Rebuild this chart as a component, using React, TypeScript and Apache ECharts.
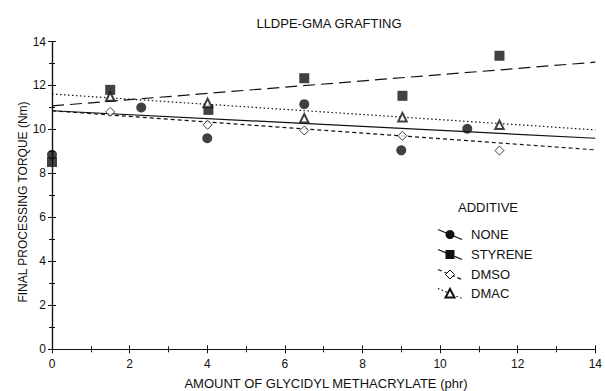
import React, { useEffect, useRef } from "react";
import * as echarts from "echarts";

const noneData: [number, number][] = [[0, 8.85], [2.3, 11.0], [4.0, 9.6], [6.5, 11.15], [9.0, 9.05], [10.7, 10.03]];
const styreneData: [number, number][] = [[0, 8.52], [1.5, 11.8], [4.03, 10.89], [6.5, 12.33], [9.03, 11.53], [11.53, 13.35]];
const dmsoData: [number, number][] = [[1.5, 10.8], [4.01, 10.21], [6.5, 9.95], [9.03, 9.71], [11.53, 9.04]];
const dmacData: [number, number][] = [[1.5, 11.5], [4.01, 11.2], [6.5, 10.51], [9.03, 10.56], [11.53, 10.21]];

const noneFit: [number, number][] = [[0, 10.85], [14, 9.6]];
const styreneFit: [number, number][] = [[0, 11.07], [14, 13.06]];
const dmsoFit: [number, number][] = [[0, 10.85], [14, 9.07]];
const dmacFit: [number, number][] = [[0, 11.61], [14, 9.98]];

const seriesNames = ["NONE", "STYRENE", "DMSO", "DMAC"];
const titleText = "LLDPE-GMA GRAFTING";
const xTitle = "AMOUNT OF GLYCIDYL METHACRYLATE (phr)";
const yTitle = "FINAL PROCESSING TORQUE (Nm)";
const legendTitle = "ADDITIVE";

const FONT = "Liberation Sans, Arial, sans-serif";

export default function App() {
  const ref = useRef<HTMLDivElement>(null);
  useEffect(() => {
    if (!ref.current) return;
    const chart = echarts.init(ref.current, undefined, { renderer: "svg" });
    const black = "#111";
    const dashTypes: any[] = ["solid", [12, 6], [4, 3], [1.5, 2.5]];
    const fits = [noneFit, styreneFit, dmsoFit, dmacFit];
    const pts = [noneData, styreneData, dmsoData, dmacData];
    const symbols = ["circle", "rect", "diamond", "triangle"];
    const sizes = [10, 10, 9, 8.5];
    const itemStyles: any[] = [
      { color: black },
      { color: black },
      { color: "#fff", borderColor: black, borderWidth: 1 },
      { color: "#fff", borderColor: black, borderWidth: 2 },
    ];
    const series: any[] = [];
    fits.forEach((f, i) => {
      series.push({
        type: "line",
        name: seriesNames[i] + " fit",
        data: f,
        showSymbol: false,
        symbol: "none",
        lineStyle: { color: black, width: 1.2, type: dashTypes[i] },
        z: 2,
        silent: true,
      });
    });
    pts.forEach((p, i) => {
      series.push({
        type: "scatter",
        name: seriesNames[i],
        data: p,
        symbol: symbols[i],
        symbolSize: sizes[i],
        itemStyle: itemStyles[i],
        z: 3,
      });
    });

    // custom legend
    const lx1 = 438, lx2 = 462, mx = 450, tx = 471;
    const ys = [234.5, 254.5, 274.5, 293.5];
    const legendChildren: any[] = [];
    ys.forEach((y, i) => {
      legendChildren.push({
        type: "line",
        shape: { x1: lx1, y1: y - 5, x2: lx2, y2: y + 5 },
        style: { stroke: black, lineWidth: 1.2, lineDash: i === 0 ? null : dashTypes[i] },
        z: 10,
      });
      let marker: any;
      if (i === 0) marker = { type: "circle", shape: { cx: mx, cy: y, r: 4.5 }, style: { fill: black } };
      else if (i === 1) marker = { type: "rect", shape: { x: mx - 4.5, y: y - 4.5, width: 9, height: 9 }, style: { fill: black } };
      else if (i === 2) marker = { type: "polygon", shape: { points: [[mx, y - 4.5], [mx + 4.5, y], [mx, y + 4.5], [mx - 4.5, y]] }, style: { fill: "#fff", stroke: black, lineWidth: 1 } };
      else marker = { type: "polygon", shape: { points: [[mx, y - 4.5], [mx + 4.5, y + 4], [mx - 4.5, y + 4]] }, style: { fill: "#fff", stroke: black, lineWidth: 2 } };
      marker.z = 11;
      legendChildren.push(marker);
      legendChildren.push({
        type: "text",
        x: tx,
        y: y,
        style: { text: seriesNames[i], fill: black, font: `13px ${FONT}`, verticalAlign: "middle", align: "left" },
        z: 11,
      });
    });
    legendChildren.push({
      type: "text",
      x: 488,
      y: 207,
      style: { text: legendTitle, fill: black, font: `13px ${FONT}`, verticalAlign: "middle", align: "center" },
      z: 11,
    });
    legendChildren.push({
      type: "text",
      x: 23,
      y: 202,
      rotation: Math.PI / 2,
      style: { text: yTitle, fill: black, font: `12px ${FONT}`, verticalAlign: "middle", align: "center" },
      z: 11,
    });
    legendChildren.push({
      type: "text",
      x: 326,
      y: 383,
      style: { text: xTitle, fill: black, font: `13px ${FONT}`, verticalAlign: "middle", align: "center" },
      z: 11,
    });

    const axisCommon = {
      type: "value",
      min: 0,
      max: 14,
      interval: 2,
      axisLine: { show: true, lineStyle: { color: black, width: 1.2 } },
      axisTick: { show: true, inside: true, length: 4, lineStyle: { color: black } },
      minorTick: { show: true, splitNumber: 2, length: 3, lineStyle: { color: black } },
      splitLine: { show: false },
    };

    chart.setOption({
      animation: false,
      backgroundColor: "#fff",
      textStyle: { fontFamily: FONT },
      title: {
        text: titleText,
        left: 324,
        top: 12,
        textAlign: "center",
        textStyle: { fontSize: 13, fontWeight: "normal", color: black, fontFamily: FONT },
      },
      grid: { left: 52, right: 4, top: 41.5, bottom: 41.7, containLabel: false },
      xAxis: [
        {
          ...axisCommon,
          position: "bottom",
          axisLabel: { color: black, fontSize: 12, margin: 9, fontFamily: FONT },
        },
        {
          ...axisCommon,
          position: "top",
          axisLabel: { show: false },
        },
      ],
      yAxis: [
        {
          ...axisCommon,
          position: "left",
          axisLabel: { color: black, fontSize: 12, margin: 6, fontFamily: FONT },
        },
        {
          ...axisCommon,
          position: "right",
          axisLabel: { show: false },
        },
      ],
      series,
      graphic: [{ type: "group", children: legendChildren }],
    });
    return () => chart.dispose();
  }, []);
  return <div ref={ref} style={{ width: 605, height: 391, position: "fixed", left: 0, top: 0 }} />;
}
